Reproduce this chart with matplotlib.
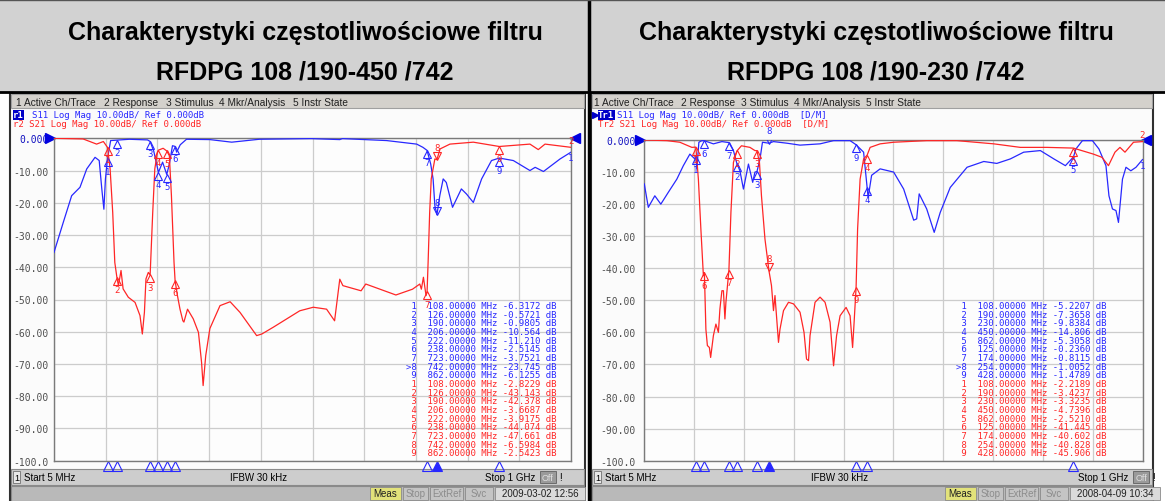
import numpy as np
import matplotlib.pyplot as plt
import matplotlib.transforms as mtransforms
from matplotlib.patches import Rectangle

W, H = 1165, 502

# ---- data (MHz, dB) ----
titles = ["Charakterystyki częstotliwościowe filtru\nRFDPG 108 /190-450 /742",
          "Charakterystyki częstotliwościowe filtru\nRFDPG 108 /190-230 /742"]

left_s11_f = [5, 23, 39, 55, 68, 84, 92, 97, 101, 104, 108, 114, 126, 150, 185, 190, 197,
              206, 214, 222, 227, 233, 238, 241, 248, 260, 305, 347, 400, 500, 555, 560,
              645, 703, 715, 723, 730, 734.6, 738, 742, 747.5, 754, 760, 772, 789, 799,
              812, 828, 847, 862, 889, 921, 931, 947, 979, 1000]
left_s11_db = [-35.4, -26, -17.8, -15.2, -9.5, -5.9, -6.9, -15.7, -22, -12.6, -6.3, -0.7,
               -0.57, -0.3, -0.5, -0.98, -4, -10.56, -7.4, -11.21, -8, -2.3, -2.51, -4.3,
               -2, -0.3, -0.4, -1.2, -0.3, -0.1, -0.4, -0.1, -0.7, -1.8, -2.8, -3.75, -8,
               -12.6, -20.9, -23.7, -17.8, -12.6, -13.7, -21.4, -15.7, -17.3, -19.9, -12.6,
               -6.9, -6.13, -6.9, -10, -9, -10.3, -6.4, -4.3]

left_s21_f = [5, 61, 87, 100, 108, 113, 118, 122, 126, 129, 134, 138, 148, 161, 170.5, 175,
              179, 182, 186.5, 190, 195, 199, 204, 206, 215, 222, 227, 231, 236, 238, 242,
              247.5, 253, 255, 262, 273, 283, 289, 292, 297, 305, 324.5, 344, 363, 395,
              405, 427, 453, 478, 504, 529.6, 545, 555, 561, 596, 605, 663, 695, 709, 712,
              716, 721, 723, 725, 728, 731, 738, 742, 748, 767, 812, 862, 921, 937, 950,
              1000]
left_s21_db = [0, -0.2, -1.8, -1.0, -2.82, -9.5, -23, -38.5, -43.1, -45.7, -41, -46.7,
               -49.3, -50.9, -55, -60.7, -54, -43.6, -41.6, -42.4, -23, -9.5, -4.3, -3.67,
               -3.1, -3.92, -5.4, -17.8, -38.5, -44.07, -48.3, -53, -56.6, -57, -53, -56,
               -60.2, -69.5, -76.7, -67.4, -59, -51.9, -50.7, -54, -61.2, -60.7, -58.6, -56,
               -53.5, -52.4, -53, -56.6, -43.7, -45.7, -47.3, -45.2, -48.6, -46.8, -45.2,
               -46.8, -43.1, -48.8, -47.66, -38.5, -23, -12.6, -6.4, -6.6, -3.3, -1.8, -1.2,
               -2.54, -1.8, -3.5, -1.8, -2.8]

right_s11_f = [5, 13, 26, 38, 53, 70, 83, 96, 106, 108, 110, 114, 120, 125, 143, 160, 174,
               183, 190, 196, 203, 213, 221.5, 226, 230, 236, 241, 254, 263, 290, 316, 356,
               383, 416, 428, 443, 450, 452, 455, 459, 476, 503, 523, 543, 549, 554, 569,
               584, 596, 616, 649.6, 683, 709, 736, 762.7, 796, 823, 846, 862, 867, 880,
               900, 913, 927, 933, 940, 947, 952, 960, 967, 976.7, 987, 1000]
right_s11_db = [-13.7, -21, -17.4, -20, -16.3, -12.2, -8, -4.4, -5.9, -5.22, -9, -0.7, -0.2,
                -0.24, -1.2, -0.5, -0.81, -3.3, -7.37, -9.6, -15.3, -7.5, -13.2, -10, -9.84,
                -6, -0.7, -1.0, -0.5, -1.0, -1.6, -1.2, -0.2, -0.2, -1.48, -3.8, -14.8, -18,
                -15, -11, -9, -10, -15.3, -25, -24.6, -16.8, -21.5, -28.8, -22.6, -14.8,
                -8.5, -6.7, -7.3, -5.9, -3.8, -3.3, -5.9, -8, -5.31, -2.8, -0.2, -0.2, -2.8,
                -8, -17.4, -21.5, -22, -25.7, -12.2, -8.5, -9.6, -8.5, -6.1]

right_s21_f = [5, 50, 76, 100, 108, 113, 118, 123, 125, 128, 131, 135, 137.5, 143, 148, 153,
               156, 160, 163, 166, 168, 174, 178, 183, 190, 199, 216, 226, 230, 235, 239,
               246, 254, 259, 263, 266, 269, 273, 276, 283, 293, 303, 316, 324, 329, 333,
               336, 346, 356, 366, 376, 383, 389, 396, 408, 416, 421, 424, 428, 431, 436,
               443, 450, 456, 476, 503, 569, 629, 703, 756, 809, 862, 902, 919, 932, 945,
               955, 965, 982, 1000]
right_s21_db = [0, -0.2, -0.7, -2.3, -2.22, -12.2, -27.8, -42.3, -41.4, -59, -64.1, -64.7,
                -67.8, -61, -57.4, -60, -52.7, -47, -47, -55.8, -50.6, -40.6, -22.6, -7,
                -3.42, -1.8, -2.3, -3.3, -3.32, -7, -17.4, -30.9, -40.8, -45.4, -53.2, -48.5,
                -54.8, -63.1, -59, -53.2, -50.6, -51.1, -53.7, -60, -68.3, -68.8, -61, -50.6,
                -49, -50.6, -56.8, -70.4, -61, -54.8, -52.2, -54.8, -64.7, -56.9, -45.9,
                -27.8, -12.2, -5.9, -4.74, -2.3, -1.2, -0.7, -0.2, -0.2, -1.2, -2.3, -2.3,
                -2.52, -4.4, -5.4, -8, -3.8, -2.3, -3.8, -0.7, -0.5]

# marker readouts (MHz, S11 dB, S21 dB); the 8th marker is the active one
left_mk_f = [108, 126, 190, 206, 222, 238, 723, 742, 862]
left_mk_s11 = [-6.3172, -0.5721, -0.9805, -10.564, -11.210, -2.5145, -3.7521, -23.745, -6.1255]
left_mk_s21 = [-2.8229, -43.143, -42.378, -3.6687, -3.9175, -44.074, -47.661, -6.5984, -2.5423]
right_mk_f = [108, 190, 230, 450, 862, 125, 174, 254, 428]
right_mk_s11 = [-5.2207, -7.3658, -9.8384, -14.806, -5.3058, -0.2360, -0.8115, -1.0052, -1.4789]
right_mk_s21 = [-2.2189, -3.4237, -3.3235, -4.7396, -2.5210, -41.445, -40.602, -40.828, -45.906]

menu_items = ["1 Active Ch/Trace", "2 Response", "3 Stimulus", "4 Mkr/Analysis", "5 Instr State"]
dates = ["2009-03-02 12:56", "2008-04-09 10:34"]
y_ticks = list(range(0, -101, -10))
y_labels = ["0.000"] + [f"{v:.2f}" for v in y_ticks[1:-1]] + ["-100.0"]

BLUE = '#2828ff'
RED = '#ff2626'
MONO = 'DejaVu Sans Mono'
SANS = 'Liberation Sans'

fig = plt.figure(figsize=(W / 100, H / 100), dpi=100)
bg = fig.add_axes([0, 0, 1, 1])
bg.set_xlim(0, W)
bg.set_ylim(H, 0)
bg.axis('off')


def box(x0, y0, x1, y1, **kw):
    bg.add_patch(Rectangle((x0, y0), x1 - x0, y1 - y0, **kw))


def fmt(v):
    return f"{v:.4f}" if abs(v) < 10 else f"{v:.3f}"


# header
box(0, 0, W, 93, facecolor='#d2d2d2', edgecolor='none')
bg.plot([0, W], [93, 93], color='black', lw=2)
bg.plot([589, 589], [0, H], color='black', lw=2.5)
bg.plot([0, W], [0.5, 0.5], color='#555555', lw=1)

panels = [
    dict(x0=10, x1=585, ax=(54, 139.3, 571, 461.7), hdr_c=305, lab_pad=4,
         menu_x=[16, 104, 166, 219, 293], tr_x=13, tr_names=("r1", "r2"), dm="",
         s11=(left_s11_f, left_s11_db), s21=(left_s21_f, left_s21_db),
         mk=(left_mk_f, left_mk_s11, left_mk_s21), tab_x=557,
         ifbw_x=259, stop_x=535, meas_x=370),
    dict(x0=591, x1=1153, ax=(644.3, 141, 1142.5, 461.7), hdr_c=876, lab_pad=6,
         menu_x=[594, 681, 741, 794, 866], tr_x=598, tr_names=("Tr1", "Tr2"), dm="  [D/M]",
         s11=(right_s11_f, right_s11_db), s21=(right_s21_f, right_s21_db),
         mk=(right_mk_f, right_mk_s11, right_mk_s21), tab_x=1106,
         ifbw_x=840, stop_x=1128, meas_x=945),
]

for i, p in enumerate(panels):
    x0, x1 = p['x0'], p['x1']
    line1, line2 = titles[i].split("\n")
    bg.text(p['hdr_c'], 33, line1, ha='center', va='center', fontsize=18,
            fontweight='bold', family=SANS)
    bg.text(p['hdr_c'], 72, line2, ha='center', va='center', fontsize=18,
            fontweight='bold', family=SANS)

    # instrument window
    box(x0, 94, x1, H, facecolor='#fbfbfb', edgecolor='#303030', lw=1.5)
    box(x0 + 1, 95, x1 - 1, 109, facecolor='#d4d1cc', edgecolor='#a0a0a0', lw=0.8)
    for mx, item in zip(p['menu_x'], menu_items):
        bg.text(mx, 102.5, item, fontsize=7.3, family=SANS, va='center', color='#202020')

    # trace header lines
    tx = p['tr_x']
    bg.text(tx, 116, p['tr_names'][0], fontsize=6.5, family=MONO, va='center',
            color='white', fontweight='bold',
            bbox=dict(boxstyle='square,pad=0.05', fc='#0000c8', ec='none'))
    bg.text(tx + 19, 116, "S11 Log Mag 10.00dB/ Ref 0.000dB" + p['dm'], fontsize=6.5,
            family=MONO, va='center', color=BLUE)
    bg.text(tx, 124.5, p['tr_names'][1] + " S21 Log Mag 10.00dB/ Ref 0.000dB" + p['dm'],
            fontsize=6.5, family=MONO, va='center', color=RED)
    if i == 1:
        bg.plot([tx - 3], [116], marker='>', ms=4, color='#0000c8')

    # footer bars
    box(x0 + 1, 470, x1 - 1, 486, facecolor='#cdcdcd', edgecolor='#8a8a8a', lw=0.8)
    box(x0 + 3, 472, x0 + 10, 484, facecolor='#e8e8e8', edgecolor='#707070', lw=0.6)
    bg.text(x0 + 6.5, 478.5, "1", fontsize=6.5, family=SANS, ha='center', va='center')
    bg.text(x0 + 14, 478.5, "Start 5 MHz", fontsize=7, family=SANS, va='center')
    bg.text(p['ifbw_x'], 478.5, "IFBW 30 kHz", fontsize=7, family=SANS, va='center',
            ha='center')
    bg.text(p['stop_x'], 478.5, "Stop 1 GHz", fontsize=7, family=SANS, va='center',
            ha='right')
    box(p['stop_x'] + 5, 472, p['stop_x'] + 21, 484, facecolor='#9a9a9a', edgecolor='#606060',
        lw=0.6)
    bg.text(p['stop_x'] + 13, 478.5, "Off", fontsize=6.5, family=SANS, va='center',
            ha='center', color='#e0e0e0')
    bg.text(p['stop_x'] + 25, 478.5, "!", fontsize=7, family=SANS, va='center', ha='center')

    box(x0 + 1, 487, x1 - 1, H, facecolor='#b9b9b9', edgecolor='#8a8a8a', lw=0.8)
    mx = p['meas_x']
    status = [("Meas", 31, '#e2e27a', '#202020'), ("Stop", 25, '#c4c4c4', '#8c8c8c'),
              ("ExtRef", 33, '#c4c4c4', '#8c8c8c'), ("Svc", 28, '#c4c4c4', '#8c8c8c'),
              (dates[i], 90, '#dadada', '#202020')]
    for label, wdt, fc, col in status:
        box(mx, 488, mx + wdt, 500.5, facecolor=fc, edgecolor='#8a8a8a', lw=0.6)
        bg.text(mx + wdt / 2, 494.5, label, fontsize=7, family=SANS, ha='center',
                va='center', color=col)
        mx += wdt + 2

    # plot area
    ax_l, ax_t, ax_r, ax_b = p['ax']
    ax = fig.add_axes([ax_l / W, 1 - ax_b / H, (ax_r - ax_l) / W, (ax_b - ax_t) / H])
    ax.set_facecolor('#fdfdfd')
    ax.set_xlim(5, 1000)
    ax.set_ylim(-100, 0)
    ax.set_xticks(np.linspace(5, 1000, 11))
    ax.set_xticklabels([])
    ax.set_yticks(y_ticks)
    ax.set_yticklabels(y_labels, family=MONO, fontsize=7, color='#505050')
    ax.get_yticklabels()[0].set_color('#1010c0')
    ax.tick_params(length=0, pad=p['lab_pad'])
    ax.grid(color='#cccccc', lw=0.9)
    for s in ax.spines.values():
        s.set_color('#7a7a7a')
        s.set_linewidth(1)

    ax.plot(*p['s11'], color=BLUE, lw=0.9, zorder=3)
    ax.plot(*p['s21'], color=RED, lw=0.9, zorder=3)

    ytr = ax.get_yaxis_transform()   # x in axes coords, y in data
    xtr = ax.get_xaxis_transform()   # x in data, y in axes coords
    ax.plot([-0.008], [0], marker='>', ms=7, color='#0000e0', transform=ytr, clip_on=False)
    ax.plot([1.008], [0], marker='<', ms=7, color='#0000e0', transform=ytr, clip_on=False)

    # trace end labels
    ax.annotate("2", (p['s21'][0][-1], p['s21'][1][-1]), xytext=(-2, 3),
                textcoords='offset points', fontsize=6.5, family=MONO, color=RED,
                annotation_clip=False)
    ax.annotate("1", (p['s11'][0][-1], p['s11'][1][-1]), xytext=(-2, -6),
                textcoords='offset points', fontsize=6.5, family=MONO, color=BLUE,
                annotation_clip=False)

    # markers
    mk_f, mk_s11, mk_s21 = p['mk']
    for vals, col in ((mk_s11, BLUE), (mk_s21, RED)):
        for n, (f, v) in enumerate(zip(mk_f, vals)):
            active = n == 7
            sgn = 1 if active else -1
            tr_m = mtransforms.offset_copy(ax.transData, fig=fig, x=0, y=sgn * 3.5,
                                           units='dots')
            ax.plot([f], [v], marker='v' if active else '^', ms=6, mfc='none', mec=col,
                    mew=0.8, transform=tr_m, zorder=4)
            ax.annotate(str(n + 1), (f, v), xytext=(0, sgn * 9), textcoords='offset points',
                        ha='center', va='center', fontsize=6.5, family=MONO, color=col,
                        zorder=4)
    # marker positions along the bottom edge
    for n, f in enumerate(mk_f):
        active = n == 7
        ax.plot([f], [-0.016], marker='^', ms=6.5, transform=xtr, clip_on=False,
                mec=BLUE, mfc=BLUE if active else 'none', mew=0.8)

    # marker table, drawn on top of the grid in figure pixel coordinates
    rows = [((">" if n == 7 else " ") + str(n + 1), f, v, BLUE)
            for n, (f, v) in enumerate(zip(mk_f, mk_s11))]
    rows += [(" " + str(n + 1), f, v, RED) for n, (f, v) in enumerate(zip(mk_f, mk_s21))]
    for r, (lab, f, v, col) in enumerate(rows):
        ax.text(p['tab_x'], 306.7 + r * 8.65, f"{lab}  {f:9.5f} MHz {fmt(v):>7} dB",
                transform=bg.transData, clip_on=False, ha='right', va='center',
                fontsize=6.5, family=MONO, color=col, zorder=5)

fig.savefig('out.png', dpi=100)
